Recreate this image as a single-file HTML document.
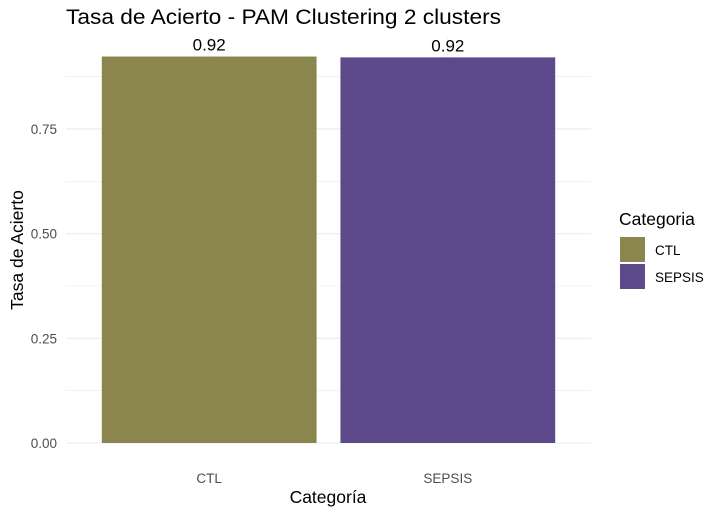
<!DOCTYPE html>
<html><head><meta charset="utf-8"><style>
body{margin:0;background:#fff;font-family:"Liberation Sans",sans-serif}
svg{display:block}
</style></head><body>
<svg id="chart" width="721" height="516">
<text x="66" y="24" font-size="21" textLength="435" lengthAdjust="spacingAndGlyphs" fill="#000">Tasa de Acierto - PAM Clustering 2 clusters</text>
<g id="grid"></g><g id="bars"></g><g id="labels"></g><g id="yticks"></g><g id="xticks"></g>
<text x="328" y="503" font-size="17.5" text-anchor="middle">Categoría</text>
<text transform="translate(23,250) rotate(-90)" font-size="17.5" text-anchor="middle">Tasa de Acierto</text>
<g>
<text x="619" y="225" font-size="17.5">Categoria</text>
<g id="legend"></g>
</g>
</svg>
<script>
const categories=["CTL","SEPSIS"];
const values=[0.923,0.921];
const labels=["0.92","0.92"];
const colors=["#8B864E","#5D4A8A"];
const yTicks=[0,0.25,0.5,0.75];
const yTickLabels=["0.00","0.25","0.50","0.75"];
const ns="http://www.w3.org/2000/svg";
const x0=66,x1=591,y0=443,yScale=418.7;
const step=(x1-x0)/(categories.length-1+1.2);
const xc=i=>x0+step*(0.6+i);
const y=v=>y0-v*yScale;
function mk(t,a,p){const e=document.createElementNS(ns,t);for(const k in a)e.setAttribute(k,a[k]);p.appendChild(e);return e;}
const grid=document.getElementById('grid');
for(let v=0;v<=0.875+1e-9;v+=0.125){
 const l=mk('line',{x1:x0,x2:x1,y1:y(v),y2:y(v),stroke:'#ebebeb','stroke-width':(Math.round(v*8)%2==0)?1.1:0.6},grid);
 
 
}
categories.forEach((c,i)=>{
 const l=mk('line',{x1:xc(i),x2:xc(i),y1:y0-405,y2:y0,stroke:'#ebebeb','stroke-width':1.1},grid);
 
 
});
const bw=step*0.9;
categories.forEach((c,i)=>{
 const r=mk('rect',{x:xc(i)-bw/2,y:y(values[i]),width:bw,height:y0-y(values[i]),fill:colors[i]},document.getElementById('bars'));
 
 
 const t=mk('text',{x:xc(i),y:y(values[i])-6,'font-size':17,'text-anchor':'middle',fill:'#000'},document.getElementById('labels'));
 t.textContent=labels[i];
 
 
 const xt=mk('text',{x:xc(i),y:y0+40,'font-size':13.5,'text-anchor':'middle',fill:'#4d4d4d'},document.getElementById('xticks'));
 xt.textContent=c;
 
 
 const ly=237+i*27;
 const k=mk('rect',{x:620,y:ly,width:25,height:25,fill:colors[i]},document.getElementById('legend'));
 
 
 const lt=mk('text',{x:655,y:ly+18,'font-size':13.5,fill:'#000'},document.getElementById('legend'));
 lt.textContent=c;
 
 
});
yTicks.forEach((v,i)=>{
 const t=mk('text',{x:57,y:y(v)+5,'font-size':13.5,'text-anchor':'end',fill:'#4d4d4d'},document.getElementById('yticks'));
 t.textContent=yTickLabels[i];
 
 
});
</script>
</body></html>
